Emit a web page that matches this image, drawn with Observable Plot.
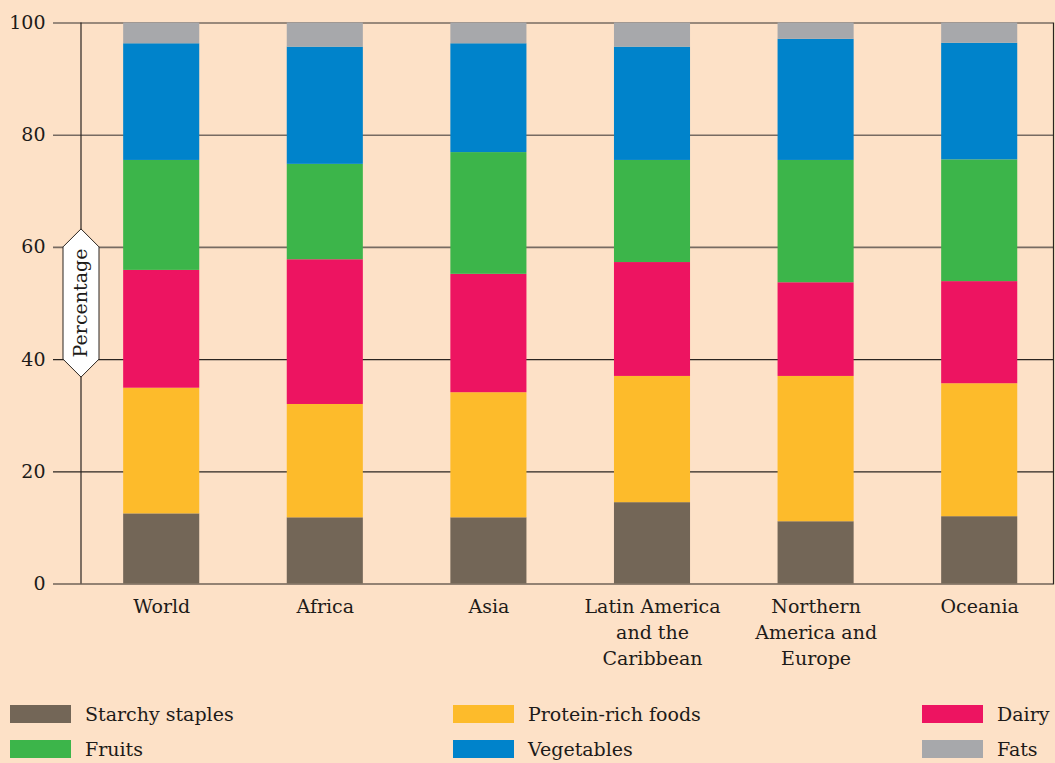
<!DOCTYPE html>
<html>
<head>
<meta charset="utf-8">
<script src="https://cdn.jsdelivr.net/npm/d3@7"></script>
<script src="https://cdn.jsdelivr.net/npm/@observablehq/plot@0.6"></script>
<style>
  html, body { margin: 0; padding: 0; background: #fde1c7; }
  #chart { width: 1055px; height: 763px; position: relative; overflow: hidden; }
  #legend { position: relative; width: 1055px; height: 73px; font-family: "DejaVu Serif", serif; font-size: 19px; color: #1d1b19; }
  .item { position: absolute; display: flex; align-items: center; height: 18px; white-space: nowrap; }
  .sw { width: 61px; height: 18px; margin-right: 14px; flex: none; }
</style>
</head>
<body>
<div id="chart"></div>
<script>
// ---- data ----
const regions = ["World", "Africa", "Asia", "Latin America and the Caribbean", "Northern America and Europe", "Oceania"];
const regionLabels = ["World", "Africa", "Asia", "Latin America\nand the\nCaribbean", "Northern\nAmerica and\nEurope", "Oceania"];
const categories = ["Starchy staples", "Protein-rich foods", "Dairy", "Fruits", "Vegetables", "Fats"];
const colors = ["#736657", "#fdbb2b", "#ed1461", "#3cb54a", "#0083cb", "#a7a8ab"];
const starchy    = [12.5, 11.8, 11.8, 14.5, 11.1, 12.0];
const protein    = [22.4, 20.2, 22.3, 22.5, 25.9, 23.7];
const dairy      = [21.0, 25.8, 21.1, 20.3, 16.7, 18.2];
const fruits     = [19.6, 17.0, 21.7, 18.2, 21.8, 21.7];
const vegetables = [20.8, 20.9, 19.4, 20.2, 21.6, 20.8];
const fats       = [3.7, 4.3, 3.7, 4.3, 2.9, 3.6];
const yTicks = [0, 20, 40, 60, 80, 100];
const yLabel = "Percentage";

const series = [starchy, protein, dairy, fruits, vegetables, fats];
const data = [];
regions.forEach((r, i) => {
  categories.forEach((c, j) => data.push({region: r, category: c, value: series[j][i]}));
});
const labelMap = new Map(regions.map((r, i) => [r, regionLabels[i]]));

const plot = Plot.plot({
  width: 1055,
  height: 690,
  marginTop: 22.5,
  marginBottom: 106.5,
  marginLeft: 53,
  marginRight: 2,
  style: {background: "transparent", fontFamily: "DejaVu Serif, serif", fontSize: "19px", color: "#1d1b19"},
  x: {domain: regions, range: [79.4, 1061], paddingInner: 0.535, paddingOuter: 0.2675, round: false, axis: null},
  y: {domain: [0, 100], axis: null},
  color: {domain: categories, range: colors},
  marks: [
    Plot.ruleY(yTicks.filter(d => d >= 60), {stroke: "#776b62", strokeWidth: 1.6}),
    Plot.ruleY(yTicks.filter(d => d < 60), {stroke: "#2a2420", strokeWidth: 1.2}),
    Plot.barY(data, {x: "region", y: "value", fill: "category"}),
    Plot.axisY({ticks: yTicks, tickSize: 0, tickPadding: 8, fontSize: 19, label: null}),
    Plot.axisX({tickSize: 0, tickPadding: 11, fontSize: 19, lineHeight: 1.36, tickFormat: d => labelMap.get(d), label: null}),
    Plot.frame({anchor: "right", stroke: "#2a2420", strokeWidth: 1.2})
  ]
});
document.getElementById("chart").appendChild(plot);

// decorations: left axis line and label badge
const y = plot.scale("y");
const svg = d3.select(plot);
const axisX = 81;
svg.append("line")
  .attr("x1", axisX).attr("x2", axisX)
  .attr("y1", y.apply(0)).attr("y2", y.apply(100))
  .attr("stroke", "#2a2420").attr("stroke-width", 1.2);
const yTop = y.apply(60), yBot = y.apply(40), hw = 18, tip = 18;
svg.append("polygon")
  .attr("points", [
    [axisX, yTop - tip], [axisX + hw, yTop], [axisX + hw, yBot],
    [axisX, yBot + tip], [axisX - hw, yBot], [axisX - hw, yTop]
  ].map(p => p.join(",")).join(" "))
  .attr("fill", "#ffffff").attr("stroke", "#2a2420").attr("stroke-width", 1);
svg.append("text")
  .attr("transform", `translate(${axisX + 6},${(yTop + yBot) / 2}) rotate(-90)`)
  .attr("text-anchor", "middle")
  .attr("font-family", "DejaVu Serif, serif")
  .attr("font-size", 19)
  .attr("fill", "#1d1b19")
  .text(yLabel);

// legend (HTML, below the SVG)
const legend = d3.select("#chart").append("div").attr("id", "legend");
const colLeft = [10, 453, 922], rowTop = [15, 50];
categories.forEach((c, i) => {
  const it = legend.append("div").attr("class", "item")
    .style("left", colLeft[i % 3] + "px").style("top", rowTop[Math.floor(i / 3)] + "px");
  it.append("div").attr("class", "sw").style("background", colors[i]);
  it.append("span").text(c);
});
</script>
</body>
</html>
